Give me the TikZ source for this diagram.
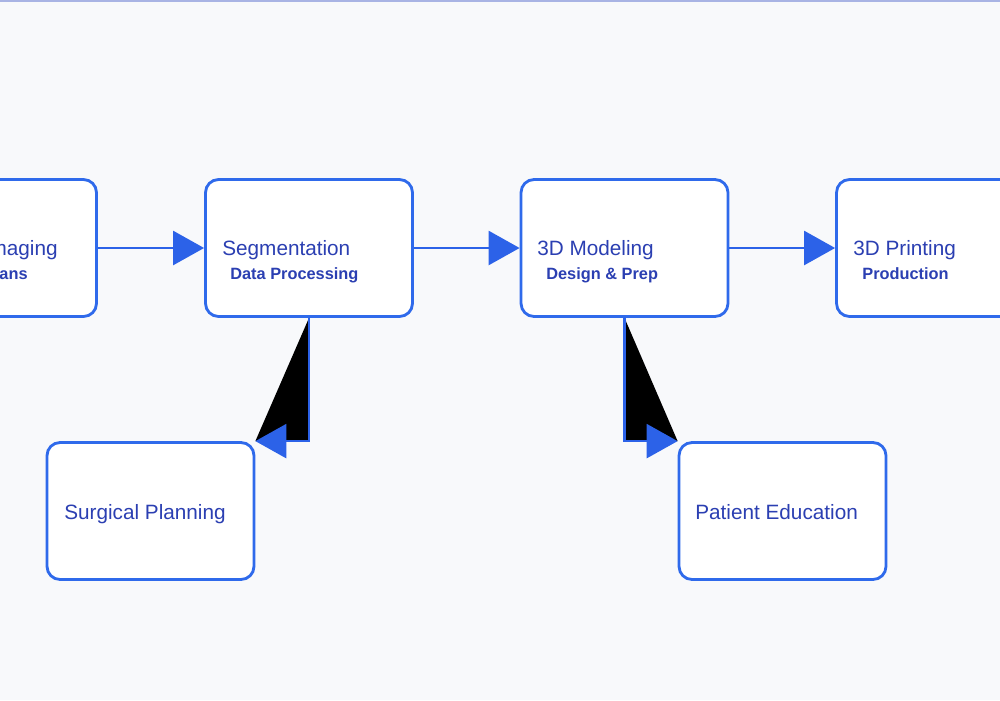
\documentclass[tikz,border=0pt]{standalone}
\usepackage{fontspec}
\setmainfont{Liberation Sans}
\usetikzlibrary{arrows.meta}
\definecolor{bgcol}{HTML}{F8F9FB}
\definecolor{topcol}{HTML}{A9B4E4}
\definecolor{boxblue}{HTML}{2F6AEB}
\definecolor{arrblue}{HTML}{2C62E8}
\definecolor{txtblue}{HTML}{2B3FB2}
\tikzset{
  box/.style={draw=boxblue, line width=1.6pt, fill=white, rounded corners=0.26cm,
    minimum width=4.14cm, minimum height=2.74cm, inner sep=0pt},
  ttl/.style={anchor=base west, inner sep=0pt, text=txtblue, font=\fontsize{11.8pt}{13pt}\selectfont},
  sub/.style={anchor=base west, inner sep=0pt, text=txtblue, font=\bfseries\fontsize{9.3pt}{11pt}\selectfont},
  conn/.style={draw=arrblue, line width=1.45pt,
    -{Triangle[length=0.62cm, width=0.68cm, fill=arrblue]}},
  wedge/.style={fill=black},
}
\begin{document}
\begin{tikzpicture}[x=0.02cm, y=-0.02cm]
\useasboundingbox (0,0) rectangle (1000,700);
\fill[bgcol] (0,0) rectangle (1000,700);
\begin{scope}
\clip (0,0) rectangle (1000,700);
\draw[topcol, line width=0.04cm] (0,1) -- (1000,1);
% boxes
\node[box] (img) at (-7,248) {};
\node[box] (seg) at (309,248) {};
\node[box] (mod) at (624.5,248) {};
\node[box] (prt) at (940,248) {};
\node[box] (surg) at (150.5,511) {};
\node[box] (pat) at (782.5,511) {};
% texts
\node[ttl, anchor=base east] (imgt) at (58,255) {Imaging};
\node[sub, anchor=base east] (imgs) at (28,279) {Scans};
\node[ttl] (segt) at (222,255) {Segmentation};
\node[sub] (segs) at (230,279) {Data Processing};
\node[ttl] (modt) at (537,255) {3D Modeling};
\node[sub] (mods) at (546,279) {Design \& Prep};
\node[ttl] (prtt) at (853,255) {3D Printing};
\node[sub] (prts) at (862,279) {Production};
\node[ttl] (surgt) at (64,519) {Surgical Planning};
\node[ttl] (patt) at (695,519) {Patient Education};
% connectors
\draw[conn] (img.east) -- (seg.west);
\draw[conn] (seg.east) -- (mod.west);
\draw[conn] (mod.east) -- (prt.west);
\fill[wedge] (seg.south) |- (surg.north east) -- cycle;
\fill[wedge] (mod.south) |- (pat.north west) -- cycle;
\draw[conn] (seg.south) |- (surg.north east);
\draw[conn] (mod.south) |- (pat.north west);
\end{scope}
\end{tikzpicture}
\end{document}
